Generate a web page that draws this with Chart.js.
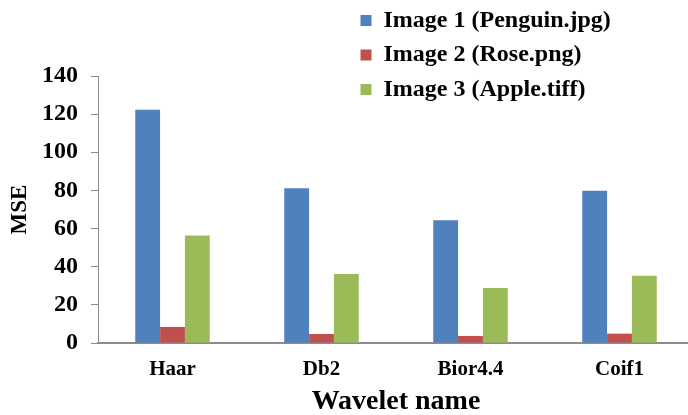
<!DOCTYPE html>
<html>
<head>
<meta charset="utf-8">
<script src="https://cdn.jsdelivr.net/npm/chart.js@4"></script>
<style>
html,body{margin:0;padding:0;background:#fff;overflow:hidden;width:688px;height:415px;}
canvas{display:block;}
</style>
</head>
<body>
<canvas id="c" width="694" height="415"></canvas>
<script>
const categories = ['Haar', 'Db2', 'Bior4.4', 'Coif1'];
const seriesNames = ['Image 1 (Penguin.jpg)', 'Image 2 (Rose.png)', 'Image 3 (Apple.tiff)'];
const penguin = [122.3, 81.2, 64.4, 79.8];
const rose = [8.4, 4.7, 3.7, 4.9];
const apple = [56.4, 36.2, 28.9, 35.2];
const yTicks = [0, 20, 40, 60, 80, 100, 120, 140];
const colors = ['#4F81BD', '#C0504D', '#9BBB59'];

const FONT = "'Times New Roman', 'Liberation Serif', serif";
const AXIS = '#8c8c8c';

const legendPlace = {
  id: 'legendPlace',
  afterLayout(chart) {
    const l = chart.legend;
    if (!l) return;
    l.left = 350; l.top = -2; l.right = 694; l.bottom = 415;
    l.width = l.right - l.left; l.height = l.bottom - l.top;
  }
};

new Chart(document.getElementById('c'), {
  type: 'bar',
  data: {
    labels: categories,
    datasets: [penguin, rose, apple].map((d, i) => ({
      label: seriesNames[i],
      data: d,
      backgroundColor: colors[i],
      borderWidth: 0,
      categoryPercentage: 0.5,
      barPercentage: 1.0
    }))
  },
  options: {
    responsive: false,
    animation: false,
    devicePixelRatio: 1,
    layout: { padding: { left: 0, top: 76, right: 0, bottom: 0 } },
    plugins: {
      tooltip: { enabled: false },
      legend: {
        position: 'chartArea',
        align: 'start',
        labels: {
          boxWidth: 11,
          boxHeight: 11,
          padding: 10.5,
          color: '#000',
          font: { family: FONT, size: 24, weight: 'bold' }
        }
      }
    },
    scales: {
      x: {
        afterFit: (s) => { s.height = 72; },
        grid: { display: true, drawOnChartArea: false, drawTicks: false },
        border: { display: true, color: AXIS, width: 2 },
        ticks: { color: '#000', padding: 14, font: { family: FONT, size: 21, weight: 'bold' } },
        title: {
          display: true, text: 'Wavelet name', color: '#000',
          font: { family: FONT, size: 28, weight: 'bold', lineHeight: 1 },
          padding: { top: 0, bottom: -1 }
        }
      },
      y: {
        min: 0, max: 140,
        afterFit: (s) => { s.width = 98; },
        afterBuildTicks: (s) => { s.ticks = yTicks.map(v => ({ value: v })); },
        grid: { display: true, drawOnChartArea: false, drawTicks: true, tickLength: 7, color: AXIS, lineWidth: 1 },
        border: { display: true, color: AXIS, width: 1 },
        ticks: { color: '#000', padding: 13, font: { family: FONT, size: 24, weight: 'bold' } },
        title: {
          display: true, text: 'MSE', color: '#000',
          font: { family: FONT, size: 23, weight: 'bold', lineHeight: 1.2 },
          padding: { top: 6, bottom: 0 }
        }
      }
    }
  },
  plugins: [legendPlace]
});
</script>
</body>
</html>
